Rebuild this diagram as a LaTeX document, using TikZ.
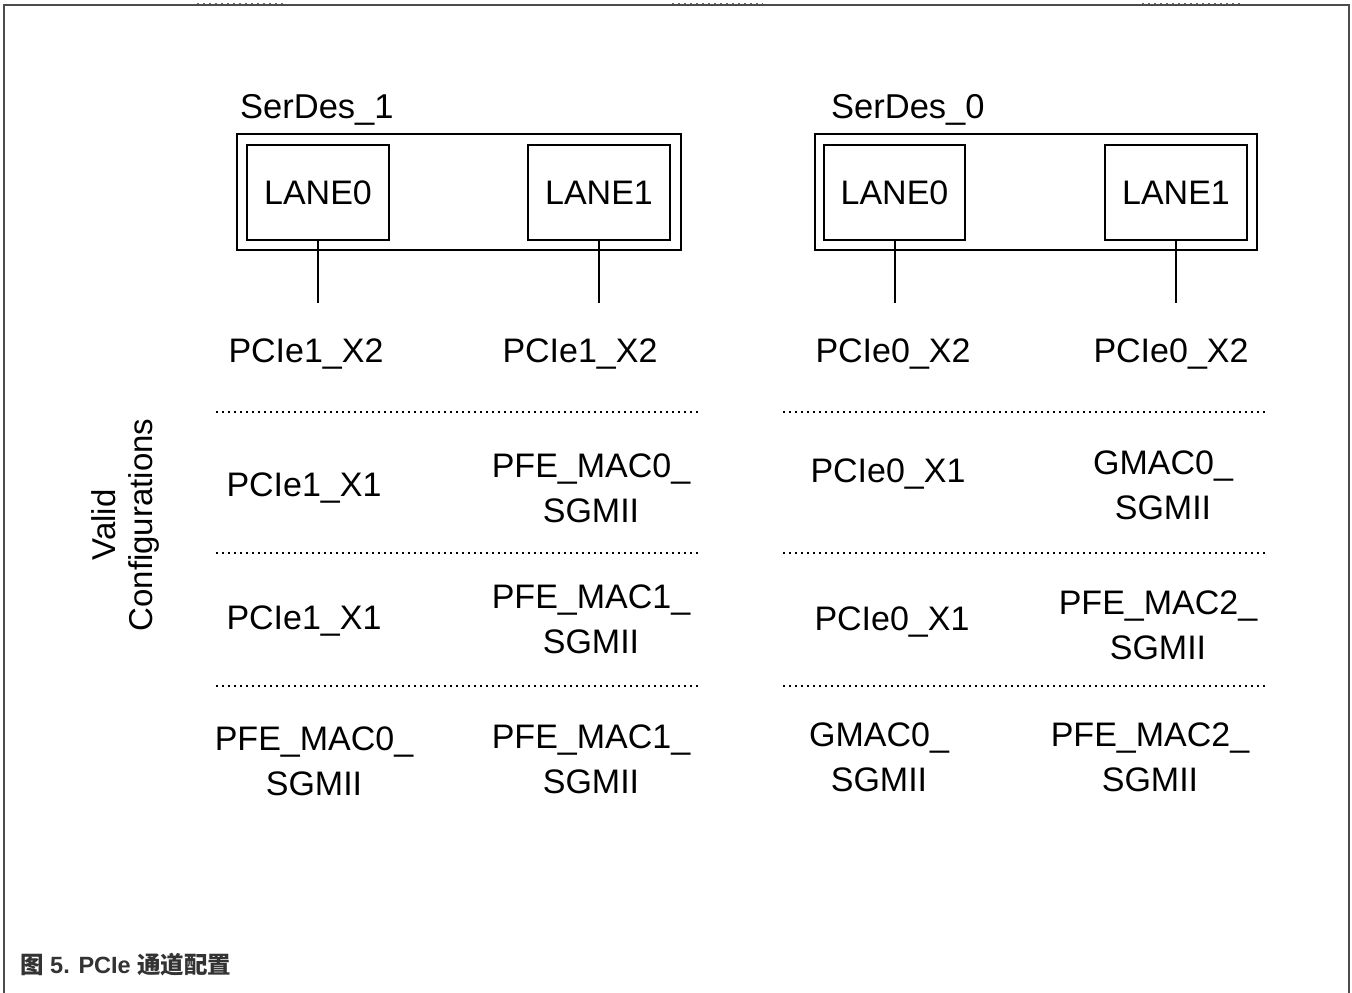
\documentclass[tikz,border=0pt]{standalone}
\usepackage{fontspec}
\setmainfont{Liberation Sans}
\newfontfamily\cjk{Noto Sans CJK SC}
\begin{document}
\begin{tikzpicture}[x=1pt,y=-1pt,
  lbl/.style={font=\fontsize{34}{45}\selectfont, inner sep=0pt, anchor=north, align=center},
  lane/.style={draw, line width=1.6pt, minimum width=142pt, minimum height=95pt, font=\fontsize{34}{40}\selectfont, inner sep=0pt},
  serdes/.style={draw, line width=2pt, minimum height=116pt, inner sep=0pt},
  title/.style={font=\fontsize{34.5}{40}\selectfont, inner sep=0pt, anchor=north west},
  wire/.style={line width=2pt},
  sepline/.style={line width=2pt, dash pattern=on 2pt off 4pt},
  frame/.style={line width=2pt, draw=black!70},
  tick/.style={line width=1.5pt, draw=black!60, dash pattern=on 1.5pt off 4.5pt}]
\useasboundingbox (0,0) rectangle (1352,993);
% frame
\coordinate (fbl) at (4,993);
\coordinate (ftl) at (4,5);
\coordinate (ftr) at (1349,5);
\coordinate (fbr) at (1349,993);
\draw[frame] (fbl) -- (ftl) -- (ftr) -- (fbr);
\coordinate (t1a) at (197,3.5); \coordinate (t1b) at (285,3.5);
\coordinate (t2a) at (672,3.5); \coordinate (t2b) at (763,3.5);
\coordinate (t3a) at (1142,3.5); \coordinate (t3b) at (1240,3.5);
\draw[tick] (t1a) -- (t1b);
\draw[tick] (t2a) -- (t2b);
\draw[tick] (t3a) -- (t3b);

% SerDes blocks
\node[title] (st1) at (240,94) {SerDes\_1};
\node[title] (st0) at (831,94) {SerDes\_0};
\node[serdes, minimum width=444pt] (s1) at (459,192) {};
\node[serdes, minimum width=442pt] (s0) at (1036,192) {};
\node[lane] (s1l0) at (318,192.5) {LANE0};
\node[lane] (s1l1) at (599,192.5) {LANE1};
\node[lane, minimum width=141pt] (s0l0) at (894.5,192.5) {LANE0};
\node[lane] (s0l1) at (1176,192.5) {LANE1};
\coordinate (e1) at (318,303);
\coordinate (e2) at (599,303);
\coordinate (e3) at (894.5,303);
\coordinate (e4) at (1176,303);
\draw[wire] (s1l0.south) -- (e1);
\draw[wire] (s1l1.south) -- (e2);
\draw[wire] (s0l0.south) -- (e3);
\draw[wire] (s0l1.south) -- (e4);

% row 1
\node[lbl] (r1a) at (306,339) {PCIe1\_X2};
\node[lbl] (r1b) at (580,339) {PCIe1\_X2};
\node[lbl] (r1c) at (893,339) {PCIe0\_X2};
\node[lbl] (r1d) at (1171,339) {PCIe0\_X2};
% separators
\foreach \y/\n in {412/a,553/b,686/c}{
  \coordinate (L\n1) at (216,\y); \coordinate (L\n2) at (699,\y);
  \coordinate (R\n1) at (783,\y); \coordinate (R\n2) at (1266,\y);
  \draw[sepline] (L\n1) -- (L\n2);
  \draw[sepline] (R\n1) -- (R\n2);
}
% row 2
\node[lbl] (r2a) at (304,473) {PCIe1\_X1};
\node[lbl] (r2b) at (591,454) {PFE\_MAC0\_\\SGMII};
\node[lbl] (r2c) at (888,459) {PCIe0\_X1};
\node[lbl] (r2d) at (1163,451) {GMAC0\_\\SGMII};
% row 3
\node[lbl] (r3a) at (304,606) {PCIe1\_X1};
\node[lbl] (r3b) at (591,585) {PFE\_MAC1\_\\SGMII};
\node[lbl] (r3c) at (892,607) {PCIe0\_X1};
\node[lbl] (r3d) at (1158,591) {PFE\_MAC2\_\\SGMII};
% row 4
\node[lbl] (r4a) at (314,727) {PFE\_MAC0\_\\SGMII};
\node[lbl] (r4b) at (591,725) {PFE\_MAC1\_\\SGMII};
\node[lbl] (r4c) at (879,723) {GMAC0\_\\SGMII};
\node[lbl] (r4d) at (1150,723) {PFE\_MAC2\_\\SGMII};

% side label
\node[rotate=90, font=\fontsize{33}{37}\selectfont, align=center, inner sep=0pt] (vc) at (125,525) {Valid\\Configurations};

% caption
\node[anchor=west, font=\bfseries\fontsize{23.5}{28}\selectfont, text=black!80, inner sep=0pt] (cap) at (20,965) {{\cjk 图} 5. PCIe {\cjk 通道配置}};
\end{tikzpicture}
\end{document}
